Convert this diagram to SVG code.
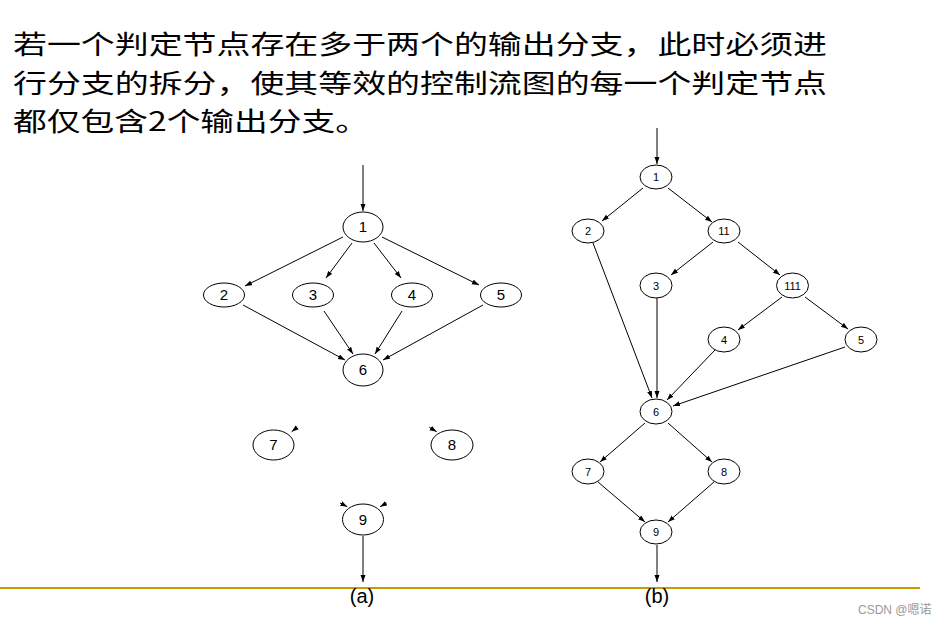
<svg xmlns="http://www.w3.org/2000/svg" width="941" height="625" viewBox="0 0 941 625">
<style>
.title{font-family:"Noto Sans CJK SC","Liberation Serif",serif;font-size:26.5px;fill:#000}
.n ellipse{fill:#fff;stroke:#000;stroke-width:1}
.n text{font-family:"Liberation Sans",Arial,sans-serif;fill:#000;text-anchor:middle}
.a text{font-size:15px}
.b text{font-size:11px}
.e line{stroke:#000;stroke-width:1;marker-end:url(#ah)}
.cap{font-family:"Liberation Sans",Arial,sans-serif;font-size:20px;fill:#000;text-anchor:middle}
</style>
<defs>
<marker id="ah" markerUnits="userSpaceOnUse" markerWidth="8" markerHeight="6" refX="7" refY="2.5" orient="auto">
<path d="M0,0 L7,2.5 L0,5 z" fill="#000"/>
</marker>
</defs>
<rect width="941" height="625" fill="#fff"/>
<g id="title">
<text class="title" x="13" y="54" textLength="814" lengthAdjust="spacingAndGlyphs">若一个判定节点存在多于两个的输出分支，此时必须进</text>
<text class="title" x="13" y="92.5" textLength="814" lengthAdjust="spacingAndGlyphs">行分支的拆分，使其等效的控制流图的每一个判定节点</text>
<text class="title" x="13" y="131" textLength="356" lengthAdjust="spacingAndGlyphs">都仅包含2个输出分支。</text>
</g>
<g id="connectors" class="e">
<!-- (a) -->
<line x1="363" y1="165" x2="363" y2="211"/>
<line x1="343" y1="237" x2="245" y2="286"/>
<line x1="352" y1="243" x2="326" y2="278"/>
<line x1="374" y1="243" x2="401" y2="278"/>
<line x1="382" y1="237" x2="479" y2="285"/>
<line x1="243" y1="305" x2="345" y2="360"/>
<line x1="324" y1="311" x2="353" y2="354"/>
<line x1="402" y1="311" x2="375" y2="354"/>
<line x1="483" y1="305" x2="383" y2="360"/>
<line x1="297.3" y1="427.3" x2="291.7" y2="431.7"/>
<line x1="429.3" y1="427.3" x2="436.7" y2="431.7"/>
<line x1="340" y1="503" x2="347.3" y2="506.7"/>
<line x1="386.7" y1="503" x2="380" y2="506.7"/>
<line x1="363" y1="536" x2="363" y2="582"/>
<!-- (b) -->
<line x1="657" y1="128" x2="657" y2="164"/>
<line x1="643" y1="188" x2="602" y2="221"/>
<line x1="668" y1="188" x2="712" y2="222"/>
<line x1="593" y1="243" x2="652" y2="398"/>
<line x1="713" y1="242" x2="671" y2="275"/>
<line x1="738" y1="242" x2="780" y2="275"/>
<line x1="657" y1="298" x2="657" y2="398"/>
<line x1="782" y1="297" x2="738" y2="330"/>
<line x1="805" y1="297" x2="848" y2="329"/>
<line x1="715" y1="350" x2="667" y2="400"/>
<line x1="845" y1="347" x2="673" y2="406"/>
<line x1="645" y1="423" x2="600" y2="462"/>
<line x1="668" y1="423" x2="712" y2="462"/>
<line x1="598" y1="482" x2="645" y2="522"/>
<line x1="714" y1="482" x2="668" y2="522"/>
<line x1="657" y1="545" x2="657" y2="582"/>
</g>
<g id="a1" class="n a"><ellipse cx="363" cy="227" rx="20" ry="15"/><text x="363" y="232">1</text></g>
<g id="a2" class="n a"><ellipse cx="224" cy="295" rx="20.5" ry="12"/><text x="224" y="300">2</text></g>
<g id="a3" class="n a"><ellipse cx="313" cy="295" rx="20.5" ry="12"/><text x="313" y="300">3</text></g>
<g id="a4" class="n a"><ellipse cx="412" cy="295" rx="20.5" ry="12"/><text x="412" y="300">4</text></g>
<g id="a5" class="n a"><ellipse cx="501" cy="295" rx="20.5" ry="12"/><text x="501" y="300">5</text></g>
<g id="a6" class="n a"><ellipse cx="363" cy="370" rx="20" ry="16"/><text x="363" y="375">6</text></g>
<g id="a7" class="n a"><ellipse cx="273.5" cy="445" rx="20.5" ry="15"/><text x="273.5" y="450">7</text></g>
<g id="a8" class="n a"><ellipse cx="452" cy="445" rx="21" ry="15"/><text x="452" y="450">8</text></g>
<g id="a9" class="n a"><ellipse cx="363" cy="519.5" rx="20.5" ry="15.5"/><text x="363" y="524.5">9</text></g>
<g id="b1" class="n b"><ellipse cx="656" cy="177" rx="16" ry="12"/><text x="656" y="181">1</text></g>
<g id="b2" class="n b"><ellipse cx="588" cy="231" rx="16" ry="12"/><text x="588" y="235">2</text></g>
<g id="b11" class="n b"><ellipse cx="724" cy="231" rx="16" ry="12"/><text x="724" y="235">11</text></g>
<g id="b3" class="n b"><ellipse cx="656" cy="285.5" rx="16" ry="12.5"/><text x="656" y="289.5">3</text></g>
<g id="b111" class="n b"><ellipse cx="792.5" cy="285.5" rx="16" ry="12.5"/><text x="792.5" y="289.5">111</text></g>
<g id="b4" class="n b"><ellipse cx="724" cy="339.5" rx="16" ry="12.5"/><text x="724" y="343.5">4</text></g>
<g id="b5" class="n b"><ellipse cx="861" cy="339.5" rx="16" ry="12.5"/><text x="861" y="343.5">5</text></g>
<g id="b6" class="n b"><ellipse cx="656" cy="411.5" rx="16" ry="12.5"/><text x="656" y="415.5">6</text></g>
<g id="b7" class="n b"><ellipse cx="588" cy="471.5" rx="16" ry="12.5"/><text x="588" y="475.5">7</text></g>
<g id="b8" class="n b"><ellipse cx="724" cy="471.5" rx="16" ry="12.5"/><text x="724" y="475.5">8</text></g>
<g id="b9" class="n b"><ellipse cx="656" cy="532" rx="16" ry="12"/><text x="656" y="536">9</text></g>
<line x1="0" y1="588" x2="920" y2="588" stroke="#CC9900" stroke-width="2"/>
<text class="cap" x="362" y="603">(a)</text>
<text class="cap" x="657" y="603">(b)</text>
<text x="858" y="614" font-family="'Liberation Sans','Noto Sans CJK SC',sans-serif" font-size="12" fill="#999">CSDN @嗯诺</text>
</svg>
